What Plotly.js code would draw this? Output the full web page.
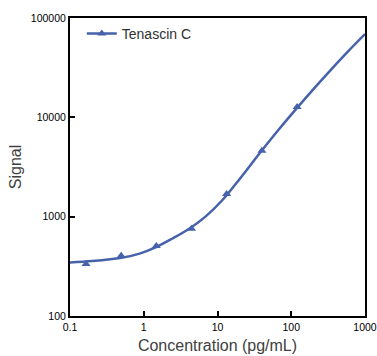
<!DOCTYPE html>
<html>
<head>
<meta charset="utf-8">
<script src="https://cdn.plot.ly/plotly-3.0.1.min.js"></script>
<style>html,body{margin:0;padding:0;background:#fff;}#chart{width:377px;height:356px;}</style>
</head>
<body>
<div id="chart"></div>
<script>
// Measured standards (triangles)
const concentrations = [0.165, 0.494, 1.48, 4.44, 13.3, 40, 120];
const signals = [334, 405, 507, 755, 1694, 4610, 12740];

// Fitted curve
const fitConc = [0.1, 0.2, 0.5, 0.877, 1.47, 2.46, 4.13, 6.93, 11.6, 20.0, 40.1, 67.3, 113, 210, 352, 590, 1000];
const fitSignal = [346, 357, 385, 425, 494, 603, 755, 1007, 1462, 2399, 4656, 7499, 11830, 20040, 30620, 46130, 68870];

const seriesName = 'Tenascin C';
const xTicks = [0.1, 1, 10, 100, 1000];
const xTickText = ['0.1', '1', '10', '100', '1000'];
const yTicks = [100, 1000, 10000, 100000];
const yTickText = ['100', '1000', '10000', '100000'];

const color = '#4662ab';
const font = 'Liberation Sans, Arial, sans-serif';

const traces = [
  {x: fitConc, y: fitSignal, mode: 'lines', line: {color: color, width: 2.5, shape: 'spline', smoothing: 1}, showlegend: false, hoverinfo: 'skip'},
  {x: concentrations, y: signals, mode: 'markers', marker: {symbol: 'triangle-up', size: 8, color: color}, showlegend: false},
  {x: [null], y: [null], mode: 'lines+markers', name: seriesName, line: {color: color, width: 2.5}, marker: {symbol: 'triangle-up', size: 8, color: color}}
];

const axisCommon = {
  type: 'log', showgrid: false, zeroline: false,
  showline: true, linecolor: '#000', linewidth: 2, mirror: true,
  ticks: 'inside', ticklen: 5, tickwidth: 2, tickcolor: '#000',
  tickfont: {family: font, size: 10.5, color: '#000'},
  exponentformat: 'none', ticklabeloverflow: 'allow'
};

const layout = {
  width: 377, height: 356,
  margin: {l: 70, r: 12, t: 18, b: 40},
  paper_bgcolor: '#fff', plot_bgcolor: '#fff',
  xaxis: Object.assign({}, axisCommon, {
    range: [-1, 3.0001], tickmode: 'array', tickvals: xTicks, ticktext: xTickText,
    title: {text: 'Concentration (pg/mL)', font: {family: font, size: 16, color: '#404040'}, standoff: 8}
  }),
  yaxis: Object.assign({}, axisCommon, {
    range: [2, 5], tickmode: 'array', tickvals: yTicks, ticktext: yTickText,
    title: {text: 'Signal', font: {family: font, size: 16, color: '#404040'}, standoff: 5}
  }),
  legend: {x: 0.04, y: 1.0, xanchor: 'left', yanchor: 'top', bgcolor: 'rgba(0,0,0,0)',
    font: {family: font, size: 14, color: '#303030'}},
  showlegend: true
};

Plotly.newPlot('chart', traces, layout, {displayModeBar: false, staticPlot: true});
</script>
</body>
</html>
